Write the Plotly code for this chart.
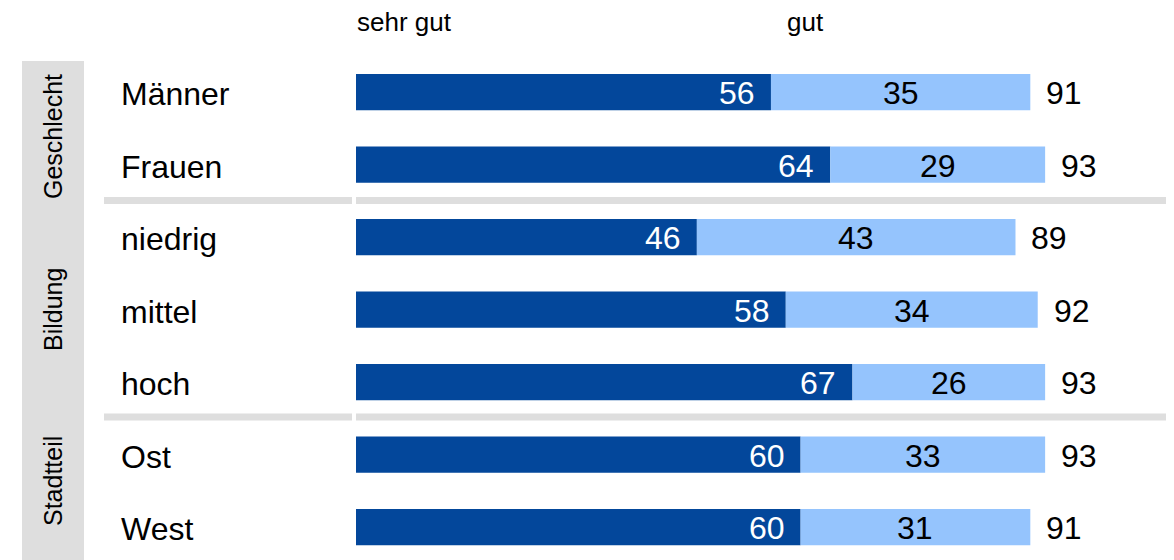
import plotly.graph_objects as go

# page body has an 8px margin, so the figure starts at (8, 8) in the window
OFF = 8
W, H = 1174, 560 - OFF

categories = ['Männer', 'Frauen', 'niedrig', 'mittel', 'hoch', 'Ost', 'West']
sehr_gut = [56, 64, 46, 58, 67, 60, 60]
gut = [35, 29, 43, 34, 26, 33, 31]
totals = [91, 93, 89, 92, 93, 93, 91]
groups = ['Geschlecht', 'Bildung', 'Stadtteil']
series_names = ['sehr gut', 'gut']

dark_blue = '#03479b'
light_blue = '#95c4fd'
strip_grey = '#dedede'
font_family = 'Liberation Sans, Arial, sans-serif'

rows = list(range(len(categories)))

# window pixel -> paper coords
def px(x):
	return (x - OFF) / W

def py(y):
	return 1 - (y - OFF) / H

fig = go.Figure()

fig.add_trace(go.Bar(
	name=series_names[0],
	y=rows, x=sehr_gut,
	orientation='h',
	width=0.5,
	marker={'color': dark_blue, 'line': {'width': 0}},
	hoverinfo='skip',
))
fig.add_trace(go.Bar(
	name=series_names[1],
	y=rows, x=gut, base=sehr_gut,
	orientation='h',
	width=0.5,
	marker={'color': light_blue, 'line': {'width': 0}},
	hoverinfo='skip',
))

annotations = []
for i, cat in enumerate(categories):
	# category label
	annotations.append(dict(
		x=px(119), xref='paper', y=i, yref='y',
		text=cat, showarrow=False, xanchor='left', yanchor='middle',
		yshift=-2, font={'size': 32, 'color': 'black'},
	))
	# sehr gut value, right aligned inside dark bar
	annotations.append(dict(
		x=sehr_gut[i], xref='x', y=i, yref='y',
		text=str(sehr_gut[i]), showarrow=False, xanchor='right', yanchor='middle',
		xshift=-14, yshift=-1, font={'size': 32, 'color': 'white'},
	))
	# gut value, centered in light bar
	annotations.append(dict(
		x=sehr_gut[i] + gut[i] / 2, xref='x', y=i, yref='y',
		text=str(gut[i]), showarrow=False, xanchor='center', yanchor='middle',
		yshift=-1, font={'size': 32, 'color': 'black'},
	))
	# total
	annotations.append(dict(
		x=totals[i], xref='x', y=i, yref='y',
		text=str(totals[i]), showarrow=False, xanchor='left', yanchor='middle',
		xshift=14, yshift=-1, font={'size': 32, 'color': 'black'},
	))

# series headers
for name, xpos in zip(series_names, [355, 785]):
	annotations.append(dict(
		x=px(xpos), xref='paper', y=py(22), yref='paper',
		text=name, showarrow=False, xanchor='left', yanchor='middle',
		font={'size': 26, 'color': 'black'},
	))

# group strip labels
for name, ycen in zip(groups, [137, 310, 481]):
	annotations.append(dict(
		x=px(53), xref='paper', y=py(ycen), yref='paper',
		text=name, showarrow=False, textangle=-90,
		xanchor='center', yanchor='middle',
		font={'size': 25, 'color': 'black'},
	))

shapes = [
	dict(type='rect', xref='paper', yref='paper',
		 x0=px(22), x1=px(84), y0=py(570), y1=py(61),
		 fillcolor=strip_grey, line={'width': 0}, layer='below'),
]
for ysep in [200.5, 417]:
	for x0, x1 in [(104, 352), (356, OFF + W)]:
		shapes.append(dict(
			type='rect', xref='paper', yref='paper',
			x0=px(x0), x1=px(x1), y0=py(ysep + 3.5), y1=py(ysep - 3.5),
			fillcolor=strip_grey, line={'width': 0}, layer='below'))

# axis ranges chosen so 0 sits at x=356 (7.41 px/unit) and rows are 72.5 px apart from y=92
fig.update_layout(
	barmode='overlay',
	width=W, height=H,
	margin=dict(l=0, r=0, t=0, b=0),
	paper_bgcolor='white',
	plot_bgcolor='white',
	showlegend=False,
	font={'family': font_family, 'color': 'black'},
	annotations=annotations,
	shapes=shapes,
	xaxis=dict(range=[(OFF - 356) / 7.41, (OFF + W - 356) / 7.41], visible=False, fixedrange=True),
	yaxis=dict(range=[(OFF + H - 92) / 72.5, (OFF - 92) / 72.5], visible=False, fixedrange=True),
)

fig.write_html('out.html')
